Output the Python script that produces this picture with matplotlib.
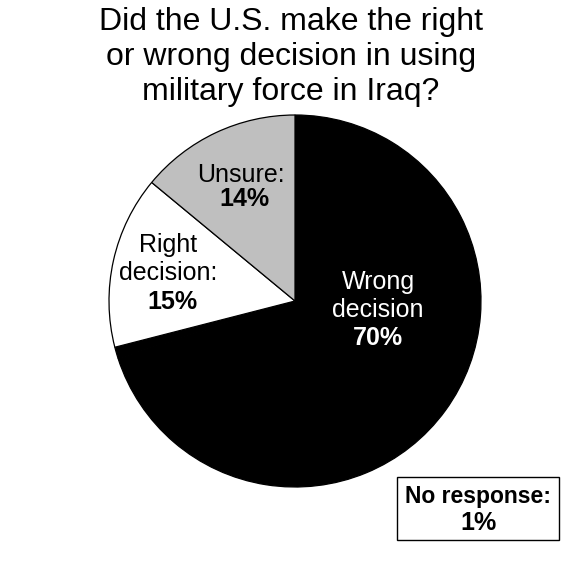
import matplotlib
matplotlib.use("Agg")
import matplotlib.pyplot as plt

plt.rcParams["font.family"] = ["Liberation Sans", "DejaVu Sans"]

TITLE = "Did the U.S. make the right\nor wrong decision in using\nmilitary force in Iraq?"

categories = ["Wrong decision", "No response", "Right decision", "Unsure"]
values = [70, 1, 15, 14]
colors = ["#000000", "#000000", "#ffffff", "#bfbfbf"]


def main():
    fig = plt.figure(figsize=(5.8, 5.8), dpi=100)
    ax = fig.add_axes([0, 0, 1, 1])

    # pie centre / radius in pixel space (y measured from bottom)
    cx, cy, r = 295, 580 - 301, 186
    ax.pie(
        values,
        colors=colors,
        startangle=90,
        counterclock=False,
        center=(cx, cy),
        radius=r,
        wedgeprops=dict(edgecolor="black", linewidth=0.9),
        frame=True,
    )
    ax.set_xlim(0, 580)
    ax.set_ylim(0, 580)
    ax.set_aspect("equal")
    ax.axis("off")

    fs = 18
    # Wrong decision
    ax.text(378, 580 - 282, "Wrong", color="white", ha="center", va="center", fontsize=fs)
    ax.text(378, 580 - 310, "decision", color="white", ha="center", va="center", fontsize=fs)
    ax.text(378, 580 - 338, f"{values[0]}%", color="white", ha="center", va="center",
            fontsize=fs, fontweight="bold")

    # Right decision
    ax.text(168, 580 - 245, "Right", ha="center", va="center", fontsize=fs)
    ax.text(168, 580 - 273, "decision:", ha="center", va="center", fontsize=fs)
    ax.text(172, 580 - 302, f"{values[2]}%", ha="center", va="center",
            fontsize=fs, fontweight="bold")

    # Unsure
    ax.text(241, 580 - 175, "Unsure:", ha="center", va="center", fontsize=fs)
    ax.text(244, 580 - 199, f"{values[3]}%", ha="center", va="center",
            fontsize=fs, fontweight="bold")

    # No response box
    box = plt.Rectangle((397, 580 - 540), 162, 63, facecolor="white",
                        edgecolor="black", linewidth=1.0)
    ax.add_patch(box)
    ax.text(478, 580 - 497, "No response:", ha="center", va="center",
            fontsize=16.5, fontweight="bold")
    ax.text(478, 580 - 523, f"{values[1]}%", ha="center", va="center",
            fontsize=fs, fontweight="bold")

    ax.text(291, 580 - 57, TITLE, ha="center", va="center", fontsize=23,
            linespacing=1.22)

    fig.savefig("out.png", dpi=100)
    plt.close(fig)


if __name__ == "__main__":
    main()
